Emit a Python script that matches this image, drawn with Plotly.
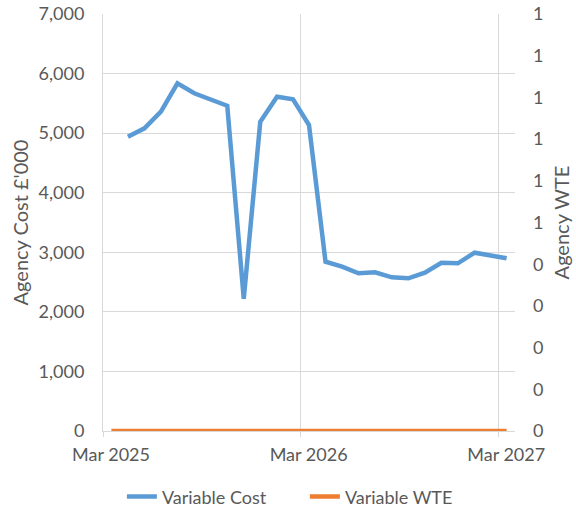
import plotly.graph_objects as go

# Data
months_cost = ["2025-04", "2025-05", "2025-06", "2025-07", "2025-08", "2025-09",
               "2025-10", "2025-11", "2025-12", "2026-01", "2026-02", "2026-03",
               "2026-04", "2026-05", "2026-06", "2026-07", "2026-08", "2026-09",
               "2026-10", "2026-11", "2026-12", "2027-01", "2027-02", "2027-03"]
variable_cost = [4940, 5080, 5360, 5835, 5670, 5568, 5460, 2220, 5190, 5610,
                 5568, 5137, 2842, 2758, 2647, 2664, 2580, 2563, 2658, 2825,
                 2815, 2993, 2943, 2899]

months_wte = ["2025-03"] + months_cost
variable_wte = [0] * len(months_wte)

x_tick_vals = ["2025-03-01", "2026-03-01", "2027-03-01"]
x_tick_text = ["Mar 2025", "Mar 2026", "Mar 2027"]
left_tick_vals = [0, 1000, 2000, 3000, 4000, 5000, 6000, 7000]
left_tick_text = ["0", "1,000", "2,000", "3,000", "4,000", "5,000", "6,000", "7,000"]
right_tick_vals = [0, 0.1, 0.2, 0.3, 0.4, 0.5, 0.6, 0.7, 0.8, 0.9, 1.0]
right_tick_text = ["0", "0", "0", "0", "0", "1", "1", "1", "1", "1", "1"]

FONT = "Lato, 'Open Sans', sans-serif"
GREY = "#595959"
GRID = "#d9d9d9"
TICK_SIZE = 18
TITLE_SIZE = 20

fig = go.Figure()
fig.add_trace(go.Scatter(
    x=months_cost, y=variable_cost, name="Variable Cost", mode="lines",
    xperiod="M1", xperiodalignment="middle",
    line=dict(color="#5B9BD5", width=4.5), yaxis="y"))
fig.add_trace(go.Scatter(
    x=months_wte, y=variable_wte, name="Variable WTE", mode="lines",
    xperiod="M1", xperiodalignment="middle",
    line=dict(color="#ED7D31", width=4.5), yaxis="y2"))

fig.update_layout(
    width=576, height=511,
    margin=dict(l=103, r=61, t=14, b=80, autoexpand=False),
    paper_bgcolor="white", plot_bgcolor="white",
    font=dict(family=FONT, size=TICK_SIZE, color=GREY),
    showlegend=True,
    legend=dict(orientation="h", x=0.49, xanchor="center", y=-0.158, yanchor="middle",
                entrywidth=138, entrywidthmode="pixels",
                font=dict(size=TICK_SIZE, color=GREY)),
    xaxis=dict(type="date", range=["2025-03-01", "2027-04-01"],
               tickvals=x_tick_vals, ticktext=x_tick_text,
               showgrid=True, gridcolor=GRID, gridwidth=1,
               showline=True, linecolor=GRID, linewidth=1,
               ticks="outside", ticklen=5, tickcolor=GRID,
               ticklabelstandoff=2, ticklabelshift=8, automargin=False,
               tickfont=dict(size=TICK_SIZE, color=GREY), zeroline=False),
    yaxis=dict(range=[0, 7000], tickvals=left_tick_vals, ticktext=left_tick_text,
               showgrid=True, gridcolor=GRID, gridwidth=1,
               showline=True, linecolor=GRID, linewidth=1,
               zeroline=False, ticks="", ticklabelstandoff=14, automargin=False,
               title=dict(text="Agency Cost £'000", font=dict(size=TITLE_SIZE, color=GREY), standoff=4),
               tickfont=dict(size=TICK_SIZE, color=GREY)),
    yaxis2=dict(range=[0, 1], overlaying="y", side="right",
                tickvals=right_tick_vals, ticktext=right_tick_text,
                showgrid=False, showline=False, zeroline=False, ticks="",
                ticklabelstandoff=17, automargin=False,
                title=dict(text="Agency WTE", font=dict(size=TITLE_SIZE, color=GREY), standoff=12),
                tickfont=dict(size=TICK_SIZE, color=GREY)),
)

fig.write_html("out.html", config={"displayModeBar": False},
               post_script="document.body.style.margin='0';")
